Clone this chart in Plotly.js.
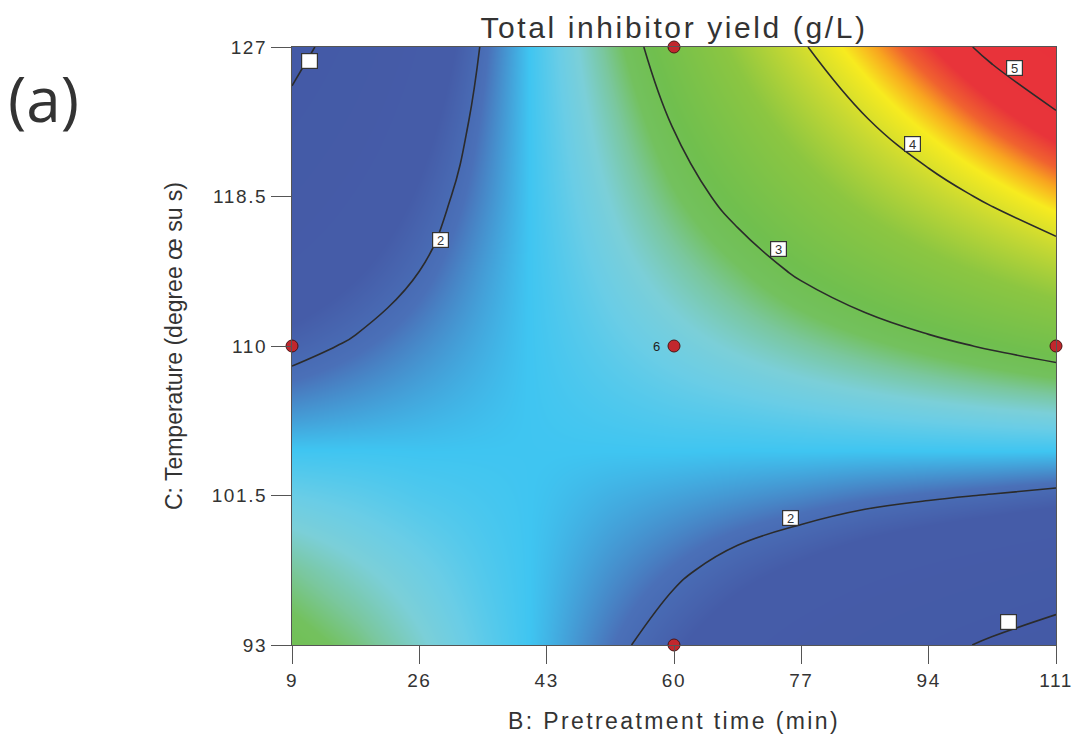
<!DOCTYPE html>
<html>
<head>
<meta charset="utf-8">
<script src="https://cdn.plot.ly/plotly-3.0.1.min.js"></script>
<style>
html,body{margin:0;padding:0;background:#fff;}
#chart{width:1080px;height:742px;}
.gtitle{letter-spacing:2.6px !important;}
.xtitle{letter-spacing:2.4px !important;}
.xtick text, .ytick text{letter-spacing:1.6px !important;}
</style>
</head>
<body>
<div id="chart"></div>
<script>
// B: Pretreatment time (min) grid
const timeGrid = [9, 17.5, 26, 34.5, 43, 51.5, 60, 68.5, 77, 85.5, 94, 102.5, 111];
// C: Temperature grid
const tempGrid = [93, 97.25, 101.5, 105.75, 110, 114.25, 118.5, 122.75, 127];
// Total inhibitor yield (g/L), rows follow tempGrid, columns follow timeGrid
const yieldRow93    = [2.97, 2.82, 2.63, 2.43, 2.25, 2.06, 1.88, 1.69, 1.50, 1.32, 1.13, 0.94, 0.76];
const yieldRow97    = [2.76, 2.63, 2.51, 2.38, 2.27, 2.15, 2.04, 1.92, 1.81, 1.69, 1.58, 1.47, 1.35];
const yieldRow101   = [2.48, 2.43, 2.37, 2.33, 2.29, 2.24, 2.20, 2.16, 2.12, 2.07, 2.03, 1.99, 1.94];
const yieldRow105   = [2.19, 2.22, 2.25, 2.28, 2.31, 2.34, 2.37, 2.39, 2.42, 2.45, 2.48, 2.51, 2.54];
const yieldRow110   = [1.93, 2.03, 2.13, 2.23, 2.33, 2.43, 2.53, 2.63, 2.73, 2.83, 2.93, 3.03, 3.13];
const yieldRow114   = [1.66, 1.83, 2.00, 2.18, 2.35, 2.52, 2.69, 2.86, 3.04, 3.21, 3.38, 3.55, 3.72];
const yieldRow118   = [1.39, 1.64, 1.88, 2.12, 2.37, 2.61, 2.86, 3.10, 3.34, 3.59, 3.83, 4.07, 4.32];
const yieldRow122   = [1.13, 1.44, 1.76, 2.07, 2.39, 2.70, 3.02, 3.33, 3.65, 3.97, 4.28, 4.60, 4.91];
const yieldRow127   = [0.86, 1.25, 1.63, 2.02, 2.41, 2.80, 3.18, 3.57, 3.96, 4.34, 4.73, 5.12, 5.50];
const yieldGrid = [yieldRow93, yieldRow97, yieldRow101, yieldRow105, yieldRow110, yieldRow114, yieldRow118, yieldRow122, yieldRow127];

// design points
const designTime = [9, 60, 60, 60, 111];
const designTemp = [110, 127, 110, 93, 110];

// contour labels
const labelText = ['\u00a0', '2', '3', '4', '5', '2', '\u00a0'];
const labelTime = [11.4, 28.8, 74.0, 91.8, 105.5, 75.5, 104.6];
const labelTemp = [126.2, 116.0, 115.5, 121.5, 125.8, 100.2, 94.3];

// tick labels
const timeTicks = [9, 26, 43, 60, 77, 94, 111];
const timeTickText = ['9', '26', '43', '60', '77', '94', '111'];
const tempTicks = [93, 101.5, 110, 118.5, 127];
const tempTickText = ['93', '101.5', '110', '118.5', '127'];

// colour stops (value in g/L, colour)
const stopValues = [0, 1.85, 2.05, 2.3, 2.48, 2.6, 2.75, 2.88, 3.05, 3.5, 3.9, 4.2, 4.4, 4.55, 4.75, 6];
const stopColors = ['#4358a5', '#455ca8', '#4a70b8', '#3fc5f1', '#6acde6', '#7bcfd8', '#7ac79e', '#73c15e', '#70bf4e',
                    '#8cc641', '#c8d932', '#f7eb1f', '#f8a51f', '#f0622f', '#e8343a', '#e8313a'];
const zLo = 0, zHi = 6;
const cscale = stopValues.map((v, i) => [(v - zLo) / (zHi - zLo), stopColors[i]]);

const heat = {
  type: 'heatmap', x: timeGrid, y: tempGrid, z: yieldGrid,
  zsmooth: 'best', colorscale: cscale, zmin: zLo, zmax: zHi, showscale: false, hoverinfo: 'skip'
};
const cont = {
  type: 'contour', x: timeGrid, y: tempGrid, z: yieldGrid,
  contours: {start: 1, end: 5, size: 1, coloring: 'none', showlabels: false},
  line: {color: '#2b2b2b', width: 1.6, smoothing: 1.2},
  showscale: false, hoverinfo: 'skip'
};
const pts = {
  type: 'scatter', mode: 'markers', x: designTime, y: designTemp,
  marker: {color: '#c1272d', size: 12, line: {color: '#4a1515', width: 1}},
  cliponaxis: false, hoverinfo: 'skip'
};

const annotations = labelText.map((t, i) => ({
  x: labelTime[i], y: labelTemp[i], xref: 'x', yref: 'y', text: t, showarrow: false,
  bgcolor: '#ffffff', bordercolor: '#333333', borderwidth: 1.2, borderpad: 0,
  width: 15, height: 14, font: {family: 'Liberation Sans, Arial', size: 13, color: '#333'}
}));
annotations.push({x: 60, y: 110, xref: 'x', yref: 'y', text: '6', showarrow: false, xshift: -18,
  font: {family: 'Liberation Sans, Arial', size: 13, color: '#222'}});
annotations.push({xref: 'paper', yref: 'paper', x: -0.374, y: 0.915, xanchor: 'left', yanchor: 'middle',
  text: '(a)', showarrow: false, font: {family: 'Open Sans, sans-serif', size: 62, color: '#333'}});

const layout = {
  width: 1080, height: 742,
  margin: {l: 292, r: 24, t: 47, b: 97},
  paper_bgcolor: '#ffffff', plot_bgcolor: '#ffffff',
  showlegend: false,
  title: {text: 'Total inhibitor yield (g/L)', x: 0.5, xref: 'paper', xanchor: 'center', y: 0.963, yanchor: 'middle',
    font: {family: 'Liberation Sans, Arial', size: 30, color: '#333'}},
  xaxis: {
    range: [9, 111], tickvals: timeTicks, ticktext: timeTickText, ticks: 'outside', ticklen: 18, tickcolor: '#555', tickwidth: 1,
    showline: true, linecolor: '#555', linewidth: 1, mirror: true, showgrid: false, zeroline: false,
    tickfont: {family: 'Liberation Sans, Arial', size: 19, color: '#333'},
    title: {text: 'B: Pretreatment time (min)', font: {family: 'Liberation Sans, Arial', size: 23, color: '#333'}, standoff: 23}
  },
  yaxis: {
    range: [93, 127], tickvals: tempTicks, ticktext: tempTickText, ticks: 'outside', ticklen: 20, tickcolor: '#555', tickwidth: 1,
    showline: true, linecolor: '#555', linewidth: 1, mirror: true, showgrid: false, zeroline: false,
    tickfont: {family: 'Liberation Sans, Arial', size: 19, color: '#333'},
    title: {text: 'C: Temperature (degree œ su s)', font: {family: 'Liberation Sans, Arial', size: 23, color: '#333'}, standoff: 22}
  },
  annotations: annotations
};

Plotly.newPlot('chart', [heat, cont, pts], layout, {displayModeBar: false, staticPlot: true});
</script>
</body>
</html>
